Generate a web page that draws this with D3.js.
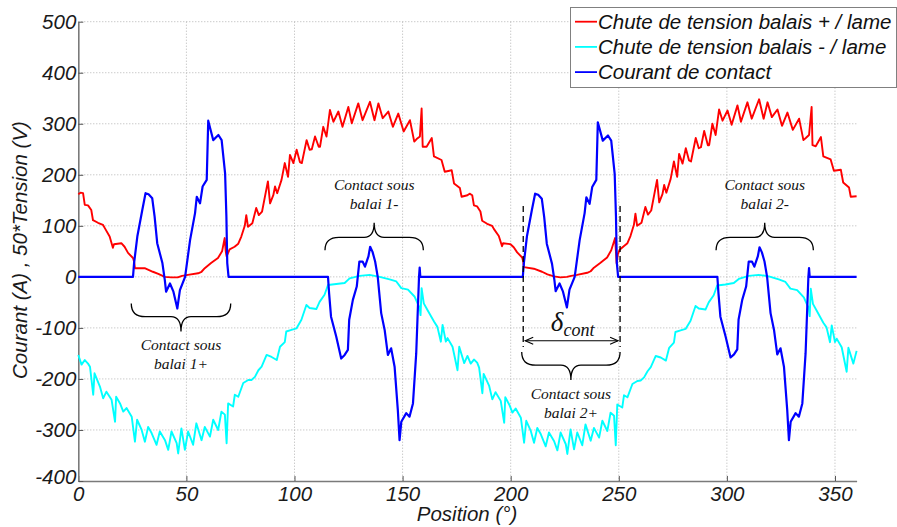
<!DOCTYPE html>
<html><head><meta charset="utf-8">
<script src="https://cdn.jsdelivr.net/npm/d3@7"></script>
<style>
html,body{margin:0;padding:0;background:#fff;}
svg{display:block;}
</style></head>
<body>
<svg id="chart" width="897" height="527"></svg>
<script>
// ---- DATA (position in degrees, value in A or 50*V) ----
const xTicks = [0, 50, 100, 150, 200, 250, 300, 350];
const yTicks = [-400, -300, -200, -100, 0, 100, 200, 300, 400, 500];

const seriesNames = ["Chute de tension balais + / lame", "Chute de tension balais - / lame", "Courant de contact"];
const seriesColors = ["#ff0000", "#00ffff", "#0000ff"];

const redA = [[0,162],[1,165],[2.2,164],[3,141],[4.5,140],[6,131],[6.8,111],[9.1,106],[11.4,102],[12.2,96],[14.5,79],[16,57],[16.5,64],[19.9,66],[21.4,59],[23,47],[25.3,37],[25.8,30],[26.2,17],[30.7,17],[34.5,10],[37,6],[40,0],[43,-1],[46,-1],[48,2],[50.7,4],[55.4,7],[57,10],[58.5,17],[61.4,27],[64.6,37],[66.5,50],[67.7,76],[68.2,50],[68.6,40],[69.2,46],[70,54],[72.3,59],[74,65],[75.4,79],[77,100],[77.7,121],[78.5,98],[80.5,105],[82.3,135],[83.5,121],[85,128],[87.7,187],[88.7,144],[90.2,160],[91,177],[92,164],[94,190],[95.5,223],[97,196],[97.9,239],[99.5,223],[101,249],[102.5,225],[103.4,223],[105.6,268],[107,249],[108,250],[109.5,275],[111.2,255],[111.8,255],[113.3,294],[114.8,275],[116.4,327],[118,304],[120.3,324],[122.2,294],[124.9,333],[126.5,301],[129.5,340],[131.5,307],[134.9,343],[137,307],[138.8,340],[140.8,311],[143.4,324],[145.5,294],[148,320],[150.5,285],[153.4,307],[155.4,265],[156.5,270],[158,275],[158.8,330],[159.3,255],[161.1,255],[163.5,272],[164.5,236],[168,229],[169.5,206],[172.7,209],[173.8,183],[176.5,174],[177.3,157],[180,160]];
const redB = [[180,160],[181,163],[182.2,160],[183,140],[184.5,138],[186,128],[186.8,110],[189.1,104],[191.4,100],[192.2,94],[194.5,80],[196,60],[196.5,66],[199.9,64],[201.4,58],[203,48],[205.3,38],[205.8,30],[206.1,19],[210.7,16],[214.5,10],[217,5],[220,1],[223,-1],[226,0],[228,2],[230.7,4],[235.4,8],[237,11],[238.5,18],[241.4,27],[244.6,38],[246.5,52],[248.3,76],[249,27],[249.6,45],[250.4,53],[252.3,60],[254,66],[255.4,80],[257,102],[257.7,124],[258.5,100],[260.5,106],[262.3,137],[263.5,122],[265,130],[267.7,190],[268.7,146],[270.2,162],[271,180],[272,165],[274,192],[275.5,226],[277,196],[277.9,241],[279.5,222],[281,252],[282.5,228],[283.4,226],[285.6,272],[287,252],[288,254],[289.5,286],[291.2,258],[291.8,258],[293.3,300],[294.8,278],[296.4,328],[298,306],[300.3,326],[302.2,298],[304.9,336],[306.5,304],[309.5,342],[311.5,310],[314.9,348],[317,310],[318.8,342],[320.8,313],[323.4,328],[325.5,296],[328,322],[330.5,288],[333.4,310],[335.4,268],[336.5,272],[338,278],[339.2,333],[339.6,258],[341.1,256],[343.5,274],[344.6,236],[348,230],[349.5,208],[352.7,210],[353.8,185],[356.5,175],[357.3,157],[360,158]];

const cyanA = [[0,-153],[1.5,-172],[3,-163],[4.5,-170],[5.4,-176],[6.9,-231],[7.5,-189],[10,-215],[11.5,-238],[13,-225],[15.4,-241],[17,-284],[17.5,-235],[19.3,-248],[20.8,-264],[22.3,-257],[24.7,-274],[26.2,-323],[27.2,-280],[29.3,-300],[30.8,-323],[32.3,-294],[33.9,-306],[36.2,-329],[37.7,-303],[40.1,-320],[41.6,-339],[43.1,-303],[45.5,-326],[46.2,-346],[47.7,-297],[49.3,-339],[50.8,-303],[53.1,-329],[54.6,-287],[57,-320],[58.5,-294],[60.9,-313],[62.4,-280],[64.7,-300],[66.2,-264],[67.8,-270],[68.6,-326],[69.3,-248],[71.6,-254],[72.4,-231],[74,-235],[76.3,-208],[78.6,-202],[80.1,-202],[81.7,-196],[83.3,-183],[84.8,-176],[87.1,-153],[89.4,-157],[91.8,-163],[93.3,-137],[95.5,-128],[96.2,-107],[98.6,-104],[100.9,-101],[103.2,-84],[105.5,-55],[107,-61],[110.1,-63],[111.6,-49],[113.9,-35],[115.5,-16],[119.3,-14],[123.2,-12],[125.5,-3],[130.1,2],[134.7,4],[139.4,0],[144,-5],[147.1,-9],[149.4,-22],[152.5,-25],[155.6,-39],[157.9,-61],[158.3,-75],[158.8,-22],[159.8,-52],[161.5,-65],[164.6,-88],[166.1,-98],[167.7,-127],[168.5,-94],[170,-127],[170.8,-120],[173.1,-137],[175.4,-183],[176.2,-137],[178.5,-169],[180,-155]];
const cyanB = [[180,-155],[181.5,-170],[183,-162],[184.5,-168],[185.4,-178],[186.9,-228],[187.5,-190],[190,-213],[191.5,-240],[193,-226],[195.4,-243],[197,-286],[197.5,-236],[199.3,-250],[200.8,-266],[202.3,-258],[204.7,-276],[206.2,-325],[207.2,-282],[209.3,-302],[210.8,-325],[212.3,-296],[213.9,-308],[216.2,-332],[217.7,-305],[220.1,-322],[221.6,-340],[223.1,-305],[225.5,-328],[226.2,-347],[227.7,-299],[229.3,-338],[230.8,-305],[233.1,-330],[234.6,-289],[237,-321],[238.5,-296],[240.9,-315],[242.4,-282],[244.7,-302],[246.2,-266],[247.8,-272],[248.6,-330],[249.3,-250],[251.6,-256],[252.4,-232],[254,-236],[256.3,-210],[258.6,-204],[260.1,-203],[261.7,-197],[263.3,-185],[264.8,-177],[267.1,-155],[269.4,-158],[271.8,-164],[273.3,-139],[275.5,-129],[276.2,-108],[278.6,-105],[280.9,-102],[283.2,-86],[285.5,-57],[287,-62],[290.1,-64],[291.6,-50],[293.9,-36],[295.5,-17],[299.3,-15],[303.2,-12],[305.5,-4],[310.1,2],[314.7,4],[319.4,1],[324,-5],[327.1,-10],[329.4,-23],[332.5,-26],[335.6,-40],[337.9,-62],[338.3,-77],[338.8,-23],[339.8,-53],[341.5,-66],[344.6,-90],[346.1,-99],[347.7,-128],[348.5,-95],[350,-128],[350.8,-121],[353.1,-138],[355.4,-186],[356.2,-139],[358.5,-170],[360,-145]];

const blueW1 = [[0,0],[25.3,0],[25.8,27],[27.3,79],[29.6,131],[31.1,164],[32.5,162],[34.2,154],[35.3,118],[36.5,66],[38.9,27],[40,-6],[40.6,-29],[42.4,-13],[44,-29],[45.8,-62],[47,-26],[49.4,0],[51.7,72],[54,125],[54.8,157],[56.3,144],[57.5,177],[59.4,190],[60.1,306],[62.4,268],[64.8,278],[66.3,268],[67.9,203],[68.5,118],[68.9,27],[69.5,0]];
const blueW2 = [[115.5,0],[116,-32],[116.9,-78],[119.3,-117],[121.6,-160],[123.2,-153],[124.7,-143],[125.3,-84],[127,-45],[128.8,-19],[130,30],[131.5,30],[132.6,20],[134.2,40],[135,59],[136.1,49],[137.3,30],[138.5,0],[140.1,-71],[141.7,-104],[143.2,-153],[144.7,-140],[146.3,-176],[147.8,-261],[148.6,-320],[149.4,-284],[151.7,-267],[153.2,-274],[154.8,-248],[156.3,-150],[157.6,0],[157.9,18],[158.2,0]];
const blueW3 = [[205.6,0],[206.1,27],[207.5,79],[209.8,131],[211.3,163],[212.7,161],[214.4,153],[215.5,117],[216.7,65],[219.1,26],[220.2,-6],[220.8,-28],[222.6,-13],[224.2,-29],[226,-60],[227.2,-25],[229.6,0],[231.9,72],[234.2,125],[235,156],[236.5,143],[237.7,176],[239.6,190],[240.3,303],[242.6,267],[245,277],[246.5,267],[248.1,202],[248.7,118],[249.1,27],[249.7,0]];
const blueW4 = [[295.6,0],[296.1,-32],[297,-78],[299.4,-117],[301.7,-158],[303.3,-152],[304.8,-142],[305.4,-84],[307.1,-45],[308.9,-19],[310.1,30],[311.6,30],[312.7,20],[314.3,40],[315.1,58],[316.2,48],[317.4,30],[318.6,0],[320.2,-71],[321.8,-104],[323.3,-152],[324.8,-140],[326.4,-176],[327.9,-260],[328.7,-320],[329.5,-284],[331.8,-267],[333.3,-274],[334.9,-248],[336.4,-150],[337.7,0],[338,17],[338.3,0],[360,0]];

// annotations: [label line 1, line 2, x start, x end, base value, tip value]
const braces = [
  ["Contact sous", "balai 1+", 24.5, 70.5, -52, -107],
  ["Contact sous", "balai 1-", 114.1, 159.6, 52, 106],
  ["Contact sous", "balai 2+", 205.1, 250.6, -147, -202],
  ["Contact sous", "balai 2-", 295, 340, 52, 106]
];
const deltaRange = [205.8, 250.6];

// ---- CHART ----
const svg = d3.select("#chart");
const L = 78.3, R = 856.6, T = 21.7, B = 481;
const x = d3.scaleLinear().domain([0, 360]).range([L, R]);
const y = d3.scaleLinear().domain([-400, 500]).range([B, T]);
const FONT = "'Liberation Sans', Arial, sans-serif";
const SERIF = "'Liberation Serif', 'Times New Roman', serif";

// grid
const grid = svg.append("g");
grid.selectAll(".gx").data(xTicks.filter(d => d > 0)).join("line")
  .attr("x1", d => x(d)).attr("x2", d => x(d)).attr("y1", T).attr("y2", B)
  .attr("stroke", "#b4b4b4").attr("stroke-width", 1).attr("stroke-dasharray", "1,2");
grid.selectAll(".gy").data(yTicks.filter(d => d > -400)).join("line")
  .attr("x1", L).attr("x2", R).attr("y1", d => y(d)).attr("y2", d => y(d))
  .attr("stroke", "#b4b4b4").attr("stroke-width", 1).attr("stroke-dasharray", "1,2");

// axes
const fmt = d => String(d);
const ax = svg.append("g").attr("transform", `translate(0,${B})`)
  .call(d3.axisBottom(x).tickValues(xTicks).tickFormat(fmt).tickSizeInner(-5).tickSizeOuter(0).tickPadding(5));
const ay = svg.append("g").attr("transform", `translate(${L},0)`)
  .call(d3.axisLeft(y).tickValues(yTicks).tickFormat(fmt).tickSizeInner(-5).tickSizeOuter(0).tickPadding(2));
[ax, ay].forEach(g => {
  g.select(".domain").attr("stroke", "#7a7a7a").attr("stroke-width", 1.6);
  g.selectAll(".tick line").attr("stroke", "#555").attr("stroke-width", 1);
  g.selectAll(".tick text").attr("font-family", FONT).attr("font-style", "italic")
    .attr("font-size", "20.5px").attr("fill", "#1a1a1a");
});
ay.selectAll(".tick text").filter(d => d === -400).attr("dy", "0.1em");

// axis titles
svg.append("text").attr("x", 467).attr("y", 521).attr("text-anchor", "middle")
  .attr("font-family", FONT).attr("font-style", "italic").attr("font-size", "20.5px").attr("fill", "#1a1a1a")
  .text("Position (°)");
svg.append("text").attr("transform", "translate(27,250) rotate(-90)").attr("text-anchor", "middle")
  .attr("font-family", FONT).attr("font-style", "italic").attr("font-size", "20.5px").attr("fill", "#1a1a1a")
  .text("Courant (A) , 50*Tension (V)");

// series
const line = d3.line().x(d => x(d[0])).y(d => y(d[1]));
const series = [
  {data: redA.concat(redB.slice(1)), color: seriesColors[0], w: 1.9},
  {data: cyanA.concat(cyanB.slice(1)), color: seriesColors[1], w: 1.9},
  {data: blueW1.concat(blueW2, blueW3, blueW4), color: seriesColors[2], w: 2.2}
];
svg.append("g").selectAll("path").data(series).join("path")
  .attr("d", d => line(d.data)).attr("fill", "none")
  .attr("stroke", d => d.color).attr("stroke-width", d => d.w)
  .attr("stroke-linejoin", "round");

// braces + labels
const ann = svg.append("g");
braces.forEach(b => {
  const x0 = x(b[2]), x1 = x(b[3]), y0 = y(b[4]), yt = y(b[5]);
  const xm = (x0 + x1) / 2, ym = y0 + (yt - y0) * 0.47;
  const q = 14, q2 = 10;
  const p = `M${x0},${y0} Q${x0},${ym} ${x0+q},${ym} L${xm-q2},${ym} Q${xm},${ym} ${xm},${yt} ` +
            `Q${xm},${ym} ${xm+q2},${ym} L${x1-q},${ym} Q${x1},${ym} ${x1},${y0}`;
  ann.append("path").attr("d", p).attr("fill", "none").attr("stroke", "#000").attr("stroke-width", 1.3);
  const down = b[5] < b[4];
  const t1 = down ? yt + 19 : yt - 33;
  ann.append("text").attr("x", xm).attr("y", t1).attr("text-anchor", "middle")
    .attr("font-family", SERIF).attr("font-style", "italic").attr("font-size", "15.5px").attr("fill", "#111").text(b[0]);
  ann.append("text").attr("x", xm).attr("y", t1 + 19).attr("text-anchor", "middle")
    .attr("font-family", SERIF).attr("font-style", "italic").attr("font-size", "15.5px").attr("fill", "#111").text(b[1]);
});

// delta_cont: dashed limits and double arrow
const dx0 = x(deltaRange[0]), dx1 = x(deltaRange[1]);
[dx0, dx1].forEach(px => {
  ann.append("line").attr("x1", px).attr("x2", px).attr("y1", 206).attr("y2", 347)
    .attr("stroke", "#000").attr("stroke-width", 1.3).attr("stroke-dasharray", "6,4");
});
const ay0 = 340.7;
ann.append("line").attr("x1", dx0 + 2).attr("x2", dx1 - 2).attr("y1", ay0).attr("y2", ay0)
  .attr("stroke", "#000").attr("stroke-width", 1.1);
ann.append("path").attr("d", `M${dx0+10},${ay0-3.5} L${dx0+2},${ay0} L${dx0+10},${ay0+3.5}`)
  .attr("fill", "none").attr("stroke", "#000").attr("stroke-width", 1.1);
ann.append("path").attr("d", `M${dx1-10},${ay0-3.5} L${dx1-2},${ay0} L${dx1-10},${ay0+3.5}`)
  .attr("fill", "none").attr("stroke", "#000").attr("stroke-width", 1.1);
const dt = ann.append("text").attr("x", (dx0 + dx1) / 2 + 1).attr("y", 331).attr("text-anchor", "middle")
  .attr("font-family", SERIF).attr("font-style", "italic").attr("fill", "#111");
dt.append("tspan").attr("font-size", "27px").text("δ");
dt.append("tspan").attr("font-size", "18px").attr("dy", 5).text("cont");

// legend
const lg = svg.append("g");
lg.append("rect").attr("x", 570.5).attr("y", 7.5).attr("width", 326).attr("height", 80)
  .attr("fill", "#fff").attr("stroke", "#808080").attr("stroke-width", 1);
seriesNames.forEach((n, i) => {
  const cy = 21.7 + i * 25.2;
  lg.append("line").attr("x1", 575).attr("x2", 597).attr("y1", cy).attr("y2", cy)
    .attr("stroke", seriesColors[i]).attr("stroke-width", 1.8);
  lg.append("text").attr("x", 598).attr("y", cy + 7).attr("font-family", FONT).attr("font-style", "italic")
    .attr("font-size", "20.5px").attr("fill", "#111").text(n);
});
</script>
</body></html>
